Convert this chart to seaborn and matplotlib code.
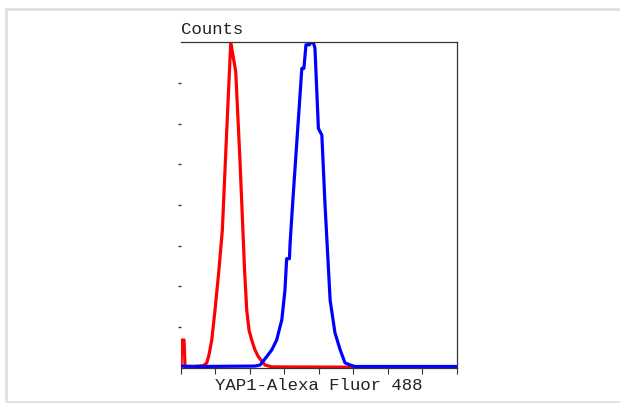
import numpy as np
import pandas as pd
import seaborn as sns
import matplotlib.pyplot as plt
from matplotlib.patches import Rectangle

# channel positions and counts (x: 0-800, y: 0-400)
red_x = [0, 1, 2.3, 9.6, 12.5, 27, 65.5, 75.4, 82, 89.9, 99.4, 110, 120.6,
         133.4, 145, 159.4, 172, 185, 191.3, 198, 205.8, 215, 225, 244.3,
         264.6, 798]
red_y = [0, 1, 34, 34, 1, 1, 2.5, 5.8, 16, 34, 71, 117, 169,
         292, 400, 364, 252, 120, 71, 46, 34, 22, 13.5, 3.3,
         1, 0.3]

blue_x = [0, 56, 215, 230, 249, 264, 278, 293, 302, 307, 315, 317, 325, 351,
          357, 363, 373, 375, 384, 389, 399, 409, 418, 433, 447, 462, 476,
          491, 505, 798]
blue_y = [2, 1.5, 2, 3.3, 13.5, 22, 34, 59, 95, 134, 134, 153, 206, 368,
          368, 397, 397, 399, 400, 393, 294, 286, 202, 83, 43, 22, 6,
          3.3, 1.5, 1.5]

x_ticks = [0, 100, 200, 300, 400, 500, 600, 700, 800]
y_ticks = [0, 50, 100, 150, 200, 250, 300, 350, 400]

sns.set_style("white")
plt.rcParams['font.family'] = ['Liberation Mono', 'DejaVu Sans Mono']

fig = plt.figure(figsize=(6.2, 4.03), dpi=100)
ax = fig.add_axes([0.2915, 0.0876, 0.4452, 0.8074])

red_df = pd.DataFrame({'x': red_x, 'y': red_y})
blue_df = pd.DataFrame({'x': blue_x, 'y': blue_y})
sns.lineplot(data=red_df, x='x', y='y', color='#ff0000', linewidth=2.3, ax=ax)
sns.lineplot(data=blue_df, x='x', y='y', color='#0000ff', linewidth=2.3, ax=ax)

ax.set_xlim(0, 800)
ax.set_ylim(0, 400)
ax.set_xticks(x_ticks)
ax.set_yticks(y_ticks[1:-1])
ax.set_xticklabels([])
ax.set_yticklabels([])
ax.tick_params(axis='x', direction='out', length=4, width=0.8, color='#333333', bottom=True)
ax.tick_params(axis='y', direction='out', length=2, width=1.0, color='#333333', left=True, pad=1)

ax.spines['left'].set_visible(False)
for s in ['top', 'right', 'bottom']:
    ax.spines[s].set_color('#333333')
    ax.spines[s].set_linewidth(0.9)

ax.set_ylabel('')
ax.set_xlabel('YAP1-Alexa Fluor 488', fontsize=12.5, color='#222222', labelpad=0)
ax.text(0.0, 1.015, 'Counts', transform=ax.transAxes, fontsize=12.5,
        color='#222222', ha='left', va='bottom')

# light grey frame around the picture
fig.patches.append(Rectangle((6 / 620, 1 - 401.5 / 403), 630 / 620, 392.5 / 403,
                             transform=fig.transFigure, fill=False,
                             edgecolor='#e0e0e0', linewidth=2))

fig.savefig('out.png', dpi=100)
